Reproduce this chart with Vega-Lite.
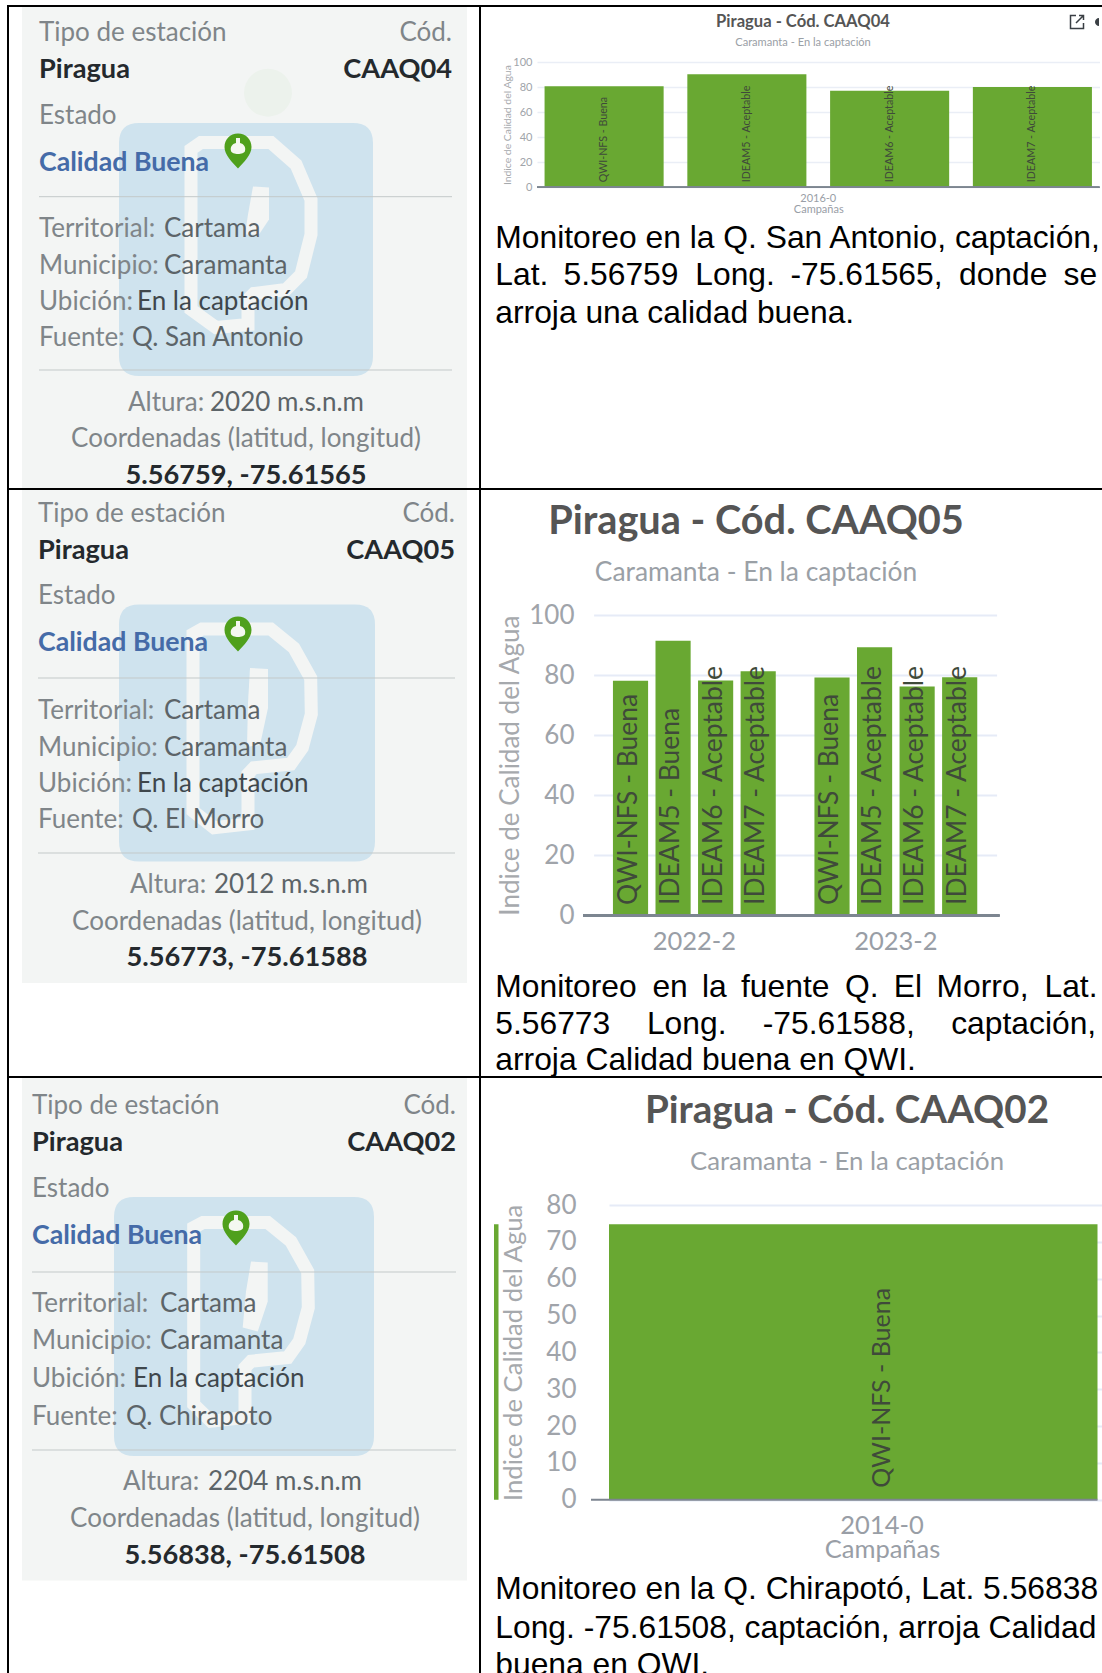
{
"$schema":"https://vega.github.io/schema/vega-lite/v6.json",
"background":"white",
"padding":{"left":6,"top":4,"right":0,"bottom":0},
"config":{"view":{"stroke":null},"font":"Lato","axis":{"labelOverlap":false}},
"datasets":{
"fichas":[
{"ficha":"CAAQ04","elemento":"fondo","renglon":17,"columna":12},
{"ficha":"CAAQ04","elemento":"matraz","renglon":16,"columna":11},
{"ficha":"CAAQ04","elemento":"sello","renglon":14,"columna":9},
{"ficha":"CAAQ04","elemento":"pin","renglon":15,"columna":10},
{"ficha":"CAAQ04","elemento":"linea","renglon":5,"columna":1,"columna_fin":2},
{"ficha":"CAAQ04","elemento":"linea","renglon":10,"columna":1,"columna_fin":2},
{"ficha":"CAAQ04","elemento":"etiqueta","renglon":1,"columna":1,"texto":"Tipo de estación"},
{"ficha":"CAAQ04","elemento":"etiqueta","renglon":1,"columna":2,"texto":"Cód."},
{"ficha":"CAAQ04","elemento":"fuerte","renglon":2,"columna":1,"texto":"Piragua"},
{"ficha":"CAAQ04","elemento":"fuerte","renglon":2,"columna":2,"texto":"CAAQ04"},
{"ficha":"CAAQ04","elemento":"etiqueta","renglon":3,"columna":1,"texto":"Estado"},
{"ficha":"CAAQ04","elemento":"calidad","renglon":4,"columna":1,"texto":"Calidad Buena"},
{"ficha":"CAAQ04","elemento":"etiqueta","renglon":6,"columna":1,"texto":"Territorial:"},
{"ficha":"CAAQ04","elemento":"dato","renglon":6,"columna":4,"texto":"Cartama"},
{"ficha":"CAAQ04","elemento":"etiqueta","renglon":7,"columna":1,"texto":"Municipio:"},
{"ficha":"CAAQ04","elemento":"dato","renglon":7,"columna":4,"texto":"Caramanta"},
{"ficha":"CAAQ04","elemento":"etiqueta","renglon":8,"columna":1,"texto":"Ubición:"},
{"ficha":"CAAQ04","elemento":"ubicacion","renglon":8,"columna":5,"texto":"En la captación"},
{"ficha":"CAAQ04","elemento":"etiqueta","renglon":9,"columna":1,"texto":"Fuente:"},
{"ficha":"CAAQ04","elemento":"dato","renglon":9,"columna":6,"texto":"Q. San Antonio"},
{"ficha":"CAAQ04","elemento":"etiqueta","renglon":11,"columna":8,"texto":"Altura:"},
{"ficha":"CAAQ04","elemento":"dato","renglon":11,"columna":7,"texto":"2020 m.s.n.m"},
{"ficha":"CAAQ04","elemento":"etiqueta","renglon":12,"columna":3,"texto":"Coordenadas (latitud, longitud)"},
{"ficha":"CAAQ04","elemento":"fuerte","renglon":13,"columna":3,"texto":"5.56759, -75.61565"},
{"ficha":"CAAQ05","elemento":"fondo","renglon":17,"columna":12},
{"ficha":"CAAQ05","elemento":"sello","renglon":14,"columna":9},
{"ficha":"CAAQ05","elemento":"pin","renglon":15,"columna":10},
{"ficha":"CAAQ05","elemento":"linea","renglon":5,"columna":1,"columna_fin":2},
{"ficha":"CAAQ05","elemento":"linea","renglon":10,"columna":1,"columna_fin":2},
{"ficha":"CAAQ05","elemento":"etiqueta","renglon":1,"columna":1,"texto":"Tipo de estación"},
{"ficha":"CAAQ05","elemento":"etiqueta","renglon":1,"columna":2,"texto":"Cód."},
{"ficha":"CAAQ05","elemento":"fuerte","renglon":2,"columna":1,"texto":"Piragua"},
{"ficha":"CAAQ05","elemento":"fuerte","renglon":2,"columna":2,"texto":"CAAQ05"},
{"ficha":"CAAQ05","elemento":"etiqueta","renglon":3,"columna":1,"texto":"Estado"},
{"ficha":"CAAQ05","elemento":"calidad","renglon":4,"columna":1,"texto":"Calidad Buena"},
{"ficha":"CAAQ05","elemento":"etiqueta","renglon":6,"columna":1,"texto":"Territorial:"},
{"ficha":"CAAQ05","elemento":"dato","renglon":6,"columna":4,"texto":"Cartama"},
{"ficha":"CAAQ05","elemento":"etiqueta","renglon":7,"columna":1,"texto":"Municipio:"},
{"ficha":"CAAQ05","elemento":"dato","renglon":7,"columna":4,"texto":"Caramanta"},
{"ficha":"CAAQ05","elemento":"etiqueta","renglon":8,"columna":1,"texto":"Ubición:"},
{"ficha":"CAAQ05","elemento":"ubicacion","renglon":8,"columna":5,"texto":"En la captación"},
{"ficha":"CAAQ05","elemento":"etiqueta","renglon":9,"columna":1,"texto":"Fuente:"},
{"ficha":"CAAQ05","elemento":"dato","renglon":9,"columna":6,"texto":"Q. El Morro"},
{"ficha":"CAAQ05","elemento":"etiqueta","renglon":11,"columna":8,"texto":"Altura:"},
{"ficha":"CAAQ05","elemento":"dato","renglon":11,"columna":7,"texto":"2012 m.s.n.m"},
{"ficha":"CAAQ05","elemento":"etiqueta","renglon":12,"columna":3,"texto":"Coordenadas (latitud, longitud)"},
{"ficha":"CAAQ05","elemento":"fuerte","renglon":13,"columna":3,"texto":"5.56773, -75.61588"},
{"ficha":"CAAQ02","elemento":"fondo","renglon":17,"columna":12},
{"ficha":"CAAQ02","elemento":"sello","renglon":14,"columna":9},
{"ficha":"CAAQ02","elemento":"pin","renglon":15,"columna":10},
{"ficha":"CAAQ02","elemento":"linea","renglon":5,"columna":1,"columna_fin":2},
{"ficha":"CAAQ02","elemento":"linea","renglon":10,"columna":1,"columna_fin":2},
{"ficha":"CAAQ02","elemento":"etiqueta","renglon":1,"columna":1,"texto":"Tipo de estación"},
{"ficha":"CAAQ02","elemento":"etiqueta","renglon":1,"columna":2,"texto":"Cód."},
{"ficha":"CAAQ02","elemento":"fuerte","renglon":2,"columna":1,"texto":"Piragua"},
{"ficha":"CAAQ02","elemento":"fuerte","renglon":2,"columna":2,"texto":"CAAQ02"},
{"ficha":"CAAQ02","elemento":"etiqueta","renglon":3,"columna":1,"texto":"Estado"},
{"ficha":"CAAQ02","elemento":"calidad","renglon":4,"columna":1,"texto":"Calidad Buena"},
{"ficha":"CAAQ02","elemento":"etiqueta","renglon":6,"columna":1,"texto":"Territorial:"},
{"ficha":"CAAQ02","elemento":"dato","renglon":6,"columna":4,"texto":"Cartama"},
{"ficha":"CAAQ02","elemento":"etiqueta","renglon":7,"columna":1,"texto":"Municipio:"},
{"ficha":"CAAQ02","elemento":"dato","renglon":7,"columna":4,"texto":"Caramanta"},
{"ficha":"CAAQ02","elemento":"etiqueta","renglon":8,"columna":1,"texto":"Ubición:"},
{"ficha":"CAAQ02","elemento":"ubicacion","renglon":8,"columna":5,"texto":"En la captación"},
{"ficha":"CAAQ02","elemento":"etiqueta","renglon":9,"columna":1,"texto":"Fuente:"},
{"ficha":"CAAQ02","elemento":"dato","renglon":9,"columna":6,"texto":"Q. Chirapoto"},
{"ficha":"CAAQ02","elemento":"etiqueta","renglon":11,"columna":8,"texto":"Altura:"},
{"ficha":"CAAQ02","elemento":"dato","renglon":11,"columna":7,"texto":"2204 m.s.n.m"},
{"ficha":"CAAQ02","elemento":"etiqueta","renglon":12,"columna":3,"texto":"Coordenadas (latitud, longitud)"},
{"ficha":"CAAQ02","elemento":"fuerte","renglon":13,"columna":3,"texto":"5.56838, -75.61508"}
],
"indices":[
{"estacion":"CAAQ04","campana":"2016-0","orden":1,"valor":80.6,"etiqueta":"QWI-NFS - Buena"},
{"estacion":"CAAQ04","campana":"2016-0","orden":2,"valor":90.2,"etiqueta":"IDEAM5 - Aceptable"},
{"estacion":"CAAQ04","campana":"2016-0","orden":3,"valor":77.1,"etiqueta":"IDEAM6 - Aceptable"},
{"estacion":"CAAQ04","campana":"2016-0","orden":4,"valor":80,"etiqueta":"IDEAM7 - Aceptable"},
{"estacion":"CAAQ05","campana":"2022-2","orden":1,"valor":78.1,"etiqueta":"QWI-NFS - Buena"},
{"estacion":"CAAQ05","campana":"2022-2","orden":2,"valor":91.4,"etiqueta":"IDEAM5 - Buena"},
{"estacion":"CAAQ05","campana":"2022-2","orden":3,"valor":78.2,"etiqueta":"IDEAM6 - Aceptable"},
{"estacion":"CAAQ05","campana":"2022-2","orden":4,"valor":81.3,"etiqueta":"IDEAM7 - Aceptable"},
{"estacion":"CAAQ05","campana":"2023-2","orden":1,"valor":79.2,"etiqueta":"QWI-NFS - Buena"},
{"estacion":"CAAQ05","campana":"2023-2","orden":2,"valor":89.3,"etiqueta":"IDEAM5 - Aceptable"},
{"estacion":"CAAQ05","campana":"2023-2","orden":3,"valor":76.2,"etiqueta":"IDEAM6 - Aceptable"},
{"estacion":"CAAQ05","campana":"2023-2","orden":4,"valor":79.3,"etiqueta":"IDEAM7 - Aceptable"},
{"estacion":"CAAQ02","campana":"2014-0","orden":1,"valor":74.8,"etiqueta":"QWI-NFS - Buena"}
],
"textos":[
{"estacion":"CAAQ04","parte":"titulo","renglon":1,"columna":1,"texto":"Piragua - Cód. CAAQ04"},
{"estacion":"CAAQ04","parte":"subtitulo","renglon":2,"columna":1,"texto":"Caramanta - En la captación"},
{"estacion":"CAAQ05","parte":"titulo","renglon":1,"columna":1,"texto":"Piragua - Cód. CAAQ05"},
{"estacion":"CAAQ05","parte":"subtitulo","renglon":2,"columna":1,"texto":"Caramanta - En la captación"},
{"estacion":"CAAQ02","parte":"titulo","renglon":1,"columna":1,"texto":"Piragua - Cód. CAAQ02"},
{"estacion":"CAAQ02","parte":"subtitulo","renglon":2,"columna":1,"texto":"Caramanta - En la captación"}
],
"parrafos":[
{"estacion":"CAAQ04","renglon":1,"columna":1,"texto":"Monitoreo en la Q. San Antonio, captación,"},
{"estacion":"CAAQ04","renglon":2,"columna":1,"texto":"Lat."},
{"estacion":"CAAQ04","renglon":2,"columna":2,"texto":"5.56759"},
{"estacion":"CAAQ04","renglon":2,"columna":3,"texto":"Long."},
{"estacion":"CAAQ04","renglon":2,"columna":4,"texto":"-75.61565,"},
{"estacion":"CAAQ04","renglon":2,"columna":5,"texto":"donde"},
{"estacion":"CAAQ04","renglon":2,"columna":6,"texto":"se"},
{"estacion":"CAAQ04","renglon":3,"columna":1,"texto":"arroja una calidad buena."},
{"estacion":"CAAQ05","renglon":1,"columna":1,"texto":"Monitoreo"},
{"estacion":"CAAQ05","renglon":1,"columna":2,"texto":"en"},
{"estacion":"CAAQ05","renglon":1,"columna":3,"texto":"la"},
{"estacion":"CAAQ05","renglon":1,"columna":4,"texto":"fuente"},
{"estacion":"CAAQ05","renglon":1,"columna":5,"texto":"Q."},
{"estacion":"CAAQ05","renglon":1,"columna":6,"texto":"El"},
{"estacion":"CAAQ05","renglon":1,"columna":7,"texto":"Morro,"},
{"estacion":"CAAQ05","renglon":1,"columna":8,"texto":"Lat."},
{"estacion":"CAAQ05","renglon":2,"columna":1,"texto":"5.56773"},
{"estacion":"CAAQ05","renglon":2,"columna":9,"texto":"Long."},
{"estacion":"CAAQ05","renglon":2,"columna":10,"texto":"-75.61588,"},
{"estacion":"CAAQ05","renglon":2,"columna":11,"texto":"captación,"},
{"estacion":"CAAQ05","renglon":3,"columna":1,"texto":"arroja Calidad buena en QWI."},
{"estacion":"CAAQ02","renglon":1,"columna":1,"texto":"Monitoreo en la Q. Chirapotó, Lat. 5.56838"},
{"estacion":"CAAQ02","renglon":2,"columna":1,"texto":"Long. -75.61508, captación, arroja Calidad"},
{"estacion":"CAAQ02","renglon":3,"columna":1,"texto":"buena en QWI."}
]
},
"bounds":"flush","spacing":0,
"resolve":{"scale":{"xOffset":"independent"}},
"vconcat":[
{"width":1096,"height":2,"view":{"fill":"#000000","stroke":null},"data":{"values":[{"borde":"fila"}]},"mark":{"type":"rule","opacity":0},"encoding":{}},
{"bounds":"flush","spacing":0,"resolve":{"scale":{"xOffset":"independent"}},"hconcat":[
 {"width":2,"height":481,"view":{"fill":"#000000","stroke":null},"data":{"values":[{"borde":"col"}]},"mark":{"type":"rule","opacity":0},"encoding":{}},
 {"width":470,"height":481,"data":{"name":"fichas"},"transform":[{"filter":"datum.ficha==='CAAQ04'"}],
  "encoding":{
   "x":{"field":"columna","type":"quantitative","axis":null,"scale":{"nice":false,"zero":false,"domain":[1,2,3,4,5,6,7,8,9,10,11,12],"range":[30,443,237,155,128,123,201,119,237,229,259,235.5]}},
   "y":{"field":"renglon","type":"quantitative","axis":null,"scale":{"nice":false,"zero":false,"domain":[1,2,3,4,5,6,7,8,9,10,11,12,13,14,15,16,17],"range":[26,63,109,156,189.7,222,259,295,331,363,396,432,469,242.5,144,85.7,240.5]}}},
  "layer":[
   {"transform":[{"filter":"datum.elemento==='fondo'"}],"mark":{"type":"point","filled":true,"opacity":1,"size":4,"fill":"#f3f5f4","stroke":null,"shape":"M-222.5,-240.5 H222.5 V240.5 H-222.5 Z"}},
   {"transform":[{"filter":"datum.elemento==='matraz'"}],"mark":{"type":"point","shape":"circle","filled":true,"opacity":1,"size":2300,"fill":"#ecf2ec","stroke":null}},
   {"transform":[{"filter":"datum.elemento==='sello'"}],"mark":{"type":"point","filled":true,"opacity":1,"size":4,"fill":"#cfe3ee","stroke":null,"shape":"M-107,-126.5 H107 Q127,-126.5 127,-106.5 V106.5 Q127,126.5 107,126.5 H-107 Q-127,126.5 -127,106.5 V-106.5 Q-127,-126.5 -107,-126.5 Z"}},
   {"transform":[{"filter":"datum.elemento==='sello'"}],"mark":{"type":"point","filled":false,"opacity":1,"size":4,"stroke":"#f3f5f4","strokeWidth":13,"shape":"M-55,60 L-55,-100 L-45,-107 L25,-107 L50,-85 L65,-50 L65,-15 L55,25 L40,40 L8,44 L2,50 L2,75 L-30,78 Z"}},
   {"transform":[{"filter":"datum.elemento==='sello'"}],"mark":{"type":"point","filled":true,"opacity":1,"size":4,"fill":"#f3f5f4","stroke":null,"shape":"M7,-63 L23,-62 L23,-30 L13,-15 L-1,-15 L2,-35 Z"}},
   {"transform":[{"filter":"datum.elemento==='pin'"}],"mark":{"type":"point","filled":true,"opacity":1,"size":4,"fill":"#4fa01c","stroke":null,"shape":"M0,-17.5 C8,-17.5 13.5,-11.5 13.5,-4 C13.5,4 6,11 0,17.5 C-6,11 -13.5,4 -13.5,-4 C-13.5,-11.5 -8,-17.5 0,-17.5 Z"}},
   {"transform":[{"filter":"datum.elemento==='pin'"}],"mark":{"type":"point","filled":true,"opacity":1,"size":4,"fill":"#f4f8f0","stroke":null,"shape":"M-2,-13 L2,-13 L2,-8 C6,-7 8,-4 7,0 C6,4 -6,4 -7,0 C-8,-4 -6,-7 -2,-8 Z"}},
   {"transform":[{"filter":"datum.elemento==='linea'"}],"mark":{"type":"rule","color":"#c3c9c9","strokeWidth":1},"encoding":{"x2":{"field":"columna_fin"}}},
   {"transform":[{"filter":"datum.texto"}],"mark":{"type":"text","font":"Lato","fontSize":{"expr":"datum.elemento==='fuerte'?27.2:datum.elemento==='calidad'?26.7:26"},"baseline":"middle","align":{"expr":"datum.columna===2?'right':datum.columna===3?'center':'left'"},"fontWeight":{"expr":"datum.elemento==='fuerte'||datum.elemento==='calidad'?'bold':'normal'"}},
    "encoding":{"text":{"field":"texto"},"color":{"field":"elemento","type":"nominal","legend":null,"scale":{"domain":["etiqueta","dato","ubicacion","fuerte","calidad"],"range":["#7f8589","#5c6468","#3f474c","#24292d","#456ba8"]}}}}
  ]},
 {"width":2,"height":481,"view":{"fill":"#000000","stroke":null},"data":{"values":[{"borde":"col"}]},"mark":{"type":"rule","opacity":0},"encoding":{}},
 {"bounds":"flush","spacing":0,"resolve":{"scale":{"xOffset":"independent"}},"vconcat":[
  {"width":622,"height":54.7,"data":{"name":"textos"},"transform":[{"filter":"datum.estacion==='CAAQ04'"}],
   "encoding":{
    "x":{"field":"columna","type":"quantitative","axis":null,"scale":{"nice":false,"zero":false,"domain":[1,2,3],"range":[322,596,618]}},
    "y":{"field":"renglon","type":"quantitative","axis":null,"scale":{"nice":false,"zero":false,"domain":[1,2],"range":[15,36]}}},
   "layer":[
    {"transform":[{"filter":"datum.parte==='titulo'"}],"mark":{"type":"text","font":"Lato","fontWeight":"bold","fontSize":16.6,"color":"#555555","baseline":"middle","align":"center"},"encoding":{"text":{"field":"texto"}}},
    {"transform":[{"filter":"datum.parte==='subtitulo'"}],"mark":{"type":"text","font":"Lato","fontSize":11.1,"color":"#9aa0a6","baseline":"middle","align":"center"},"encoding":{"text":{"field":"texto"}}},
    {"data":{"values":[{"columna":2,"renglon":1}]},"mark":{"type":"point","filled":false,"opacity":1,"size":4,"stroke":"#3a3f44","strokeWidth":1.5,"shape":"M-1,-6.5 H-6.5 V6.5 H6.5 V1 M-1,1 L6.5,-6.5 M2,-6.5 H6.5 V-2"}},
    {"data":{"values":[{"columna":3,"renglon":1}]},"mark":{"type":"point","filled":true,"opacity":1,"size":4,"fill":"#3a3f44","stroke":null,"shape":"M0,-4 A4,4 0 0 0 0,4 Z"}}
   ]},
  {"bounds":"flush","spacing":0,"resolve":{"scale":{"xOffset":"independent"}},"hconcat":[
   {"width":55.5,"height":125.3,"data":{"values":[{"hueco":1}]},"mark":{"type":"rule","opacity":0},"encoding":{}},
   {"width":562.5,"height":125.3,"data":{"name":"indices"},"transform":[{"filter":"datum.estacion==='CAAQ04'"}],
    "layer":[
     {"mark":{"type":"bar","color":"#69a832"},
      "encoding":{
       "x":{"field":"campana","type":"nominal","scale":{"type":"band","paddingInner":0,"paddingOuter":0},"axis":{"labelAngle":0,"domain":false,"ticks":false,"title":"Campañas","labelFont":"Lato","labelFontSize":11,"labelColor":"#999ea6","labelPadding":5,"titleFont":"Lato","titleFontWeight":"normal","titleFontSize":11,"titleColor":"#999ea6","titlePadding":0}},
       "xOffset":{"field":"orden","type":"nominal","scale":{"paddingInner":0.166,"paddingOuter":0.053}},
       "y":{"field":"valor","type":"quantitative","scale":{"domain":[0,100],"nice":false},"axis":{"values":[0,20,40,60,80,100],"labelOverlap":false,"domain":false,"ticks":false,"grid":true,"gridColor":"#eaeef6","gridWidth":1.5,"title":"Indice de Calidad del Agua","labelFont":"Lato","labelFontSize":11,"labelColor":"#a0a4aa","labelPadding":5,"titleFont":"Lato","titleFontWeight":"normal","titleFontSize":10.4,"titleColor":"#a6a9ad","titlePadding":0}}}},
     {"mark":{"type":"text","font":"Lato","fontSize":10.7,"angle":270,"align":"left","baseline":"middle","dx":5,"color":"#3f4a3a"},
      "encoding":{
       "x":{"field":"campana","type":"nominal"},
       "xOffset":{"field":"orden","type":"nominal"},
       "y":{"datum":0,"type":"quantitative","axis":{"values":[0,20,40,60,80,100],"labelOverlap":false}},
       "text":{"field":"etiqueta"}}},
     {"mark":{"type":"rule","color":"#7d8590","strokeWidth":1.5},"encoding":{"y":{"datum":0,"type":"quantitative","axis":{"values":[0,20,40,60,80,100],"labelOverlap":false}}}}
    ]}
  ]},
  {"width":622,"height":125.3,"data":{"values":[{"hueco":1}]},"mark":{"type":"rule","opacity":0},"encoding":{}},
  {"width":622,"height":301,"data":{"name":"parrafos"},"transform":[{"filter":"datum.estacion==='CAAQ04'"}],
   "mark":{"type":"text","font":"Liberation Sans","fontSize":31.8,"color":"#000000","baseline":"middle","align":"left"},
   "encoding":{
    "x":{"field":"columna","type":"quantitative","axis":null,"scale":{"nice":false,"zero":false,"domain":[1,2,3,4,5,6],"range":[14.3,82.5,214.3,309.5,478,582.5]}},
    "y":{"field":"renglon","type":"quantitative","axis":null,"scale":{"nice":false,"zero":false,"domain":[1,2,3],"range":[50,87,124.5]}},
    "text":{"field":"texto"}}}
 ]}
]},
{"width":1096,"height":481,"data":{"values":[{"hueco":1}]},"mark":{"type":"rule","opacity":0},"encoding":{}},
{"width":1096,"height":2,"view":{"fill":"#000000","stroke":null},"data":{"values":[{"borde":"fila"}]},"mark":{"type":"rule","opacity":0},"encoding":{}},
{"bounds":"flush","spacing":0,"resolve":{"scale":{"xOffset":"independent"}},"hconcat":[
 {"width":2,"height":586,"view":{"fill":"#000000","stroke":null},"data":{"values":[{"borde":"col"}]},"mark":{"type":"rule","opacity":0},"encoding":{}},
 {"width":470,"height":586,"data":{"name":"fichas"},"transform":[{"filter":"datum.ficha==='CAAQ05'"}],
  "encoding":{
   "x":{"field":"columna","type":"quantitative","axis":null,"scale":{"nice":false,"zero":false,"domain":[1,2,3,4,5,6,7,8,9,10,12],"range":[29,446,238,155,128,123,205,121,238,229,235.5]}},
   "y":{"field":"renglon","type":"quantitative","axis":null,"scale":{"nice":false,"zero":false,"domain":[1,2,3,4,5,6,7,8,9,10,11,12,13,14,15,17],"range":[24,60.7,106,153,188,220.6,257.5,294,330,363,395,431.7,468,243,144,246.5]}}},
  "layer":[
   {"transform":[{"filter":"datum.elemento==='fondo'"}],"mark":{"type":"point","filled":true,"opacity":1,"size":4,"fill":"#f3f5f4","stroke":null,"shape":"M-222.5,-246.5 H222.5 V246.5 H-222.5 Z"}},
   {"transform":[{"filter":"datum.elemento==='sello'"}],"mark":{"type":"point","filled":true,"opacity":1,"size":4,"fill":"#cfe3ee","stroke":null,"shape":"M-108,-128.5 H108 Q128,-128.5 128,-108.5 V108.5 Q128,128.5 108,128.5 H-108 Q-128,128.5 -128,108.5 V-108.5 Q-128,-128.5 -108,-128.5 Z"}},
   {"transform":[{"filter":"datum.elemento==='sello'"}],"mark":{"type":"point","filled":false,"opacity":1,"size":4,"stroke":"#f3f5f4","strokeWidth":13,"shape":"M-54,78 L-54,-99 L-45,-104 L23.7,-104 L47,-85 L63.7,-55 L64.3,-18.7 L55.3,14.7 L43.7,31 L7,34.7 L1,41 L1,91 L-33,94.7 Z"}},
   {"transform":[{"filter":"datum.elemento==='sello'"}],"mark":{"type":"point","filled":true,"opacity":1,"size":4,"fill":"#f3f5f4","stroke":null,"shape":"M3,-65 L21,-64 L21,-25 L13,12 L0,14 L1,-30 Z"}},
   {"transform":[{"filter":"datum.elemento==='pin'"}],"mark":{"type":"point","filled":true,"opacity":1,"size":4,"fill":"#4fa01c","stroke":null,"shape":"M0,-17.5 C8,-17.5 13.5,-11.5 13.5,-4 C13.5,4 6,11 0,17.5 C-6,11 -13.5,4 -13.5,-4 C-13.5,-11.5 -8,-17.5 0,-17.5 Z"}},
   {"transform":[{"filter":"datum.elemento==='pin'"}],"mark":{"type":"point","filled":true,"opacity":1,"size":4,"fill":"#f4f8f0","stroke":null,"shape":"M-2,-13 L2,-13 L2,-8 C6,-7 8,-4 7,0 C6,4 -6,4 -7,0 C-8,-4 -6,-7 -2,-8 Z"}},
   {"transform":[{"filter":"datum.elemento==='linea'"}],"mark":{"type":"rule","color":"#c3c9c9","strokeWidth":1},"encoding":{"x2":{"field":"columna_fin"}}},
   {"transform":[{"filter":"datum.texto"}],"mark":{"type":"text","font":"Lato","fontSize":{"expr":"datum.elemento==='fuerte'?27.2:datum.elemento==='calidad'?26.7:26"},"baseline":"middle","align":{"expr":"datum.columna===2?'right':datum.columna===3?'center':'left'"},"fontWeight":{"expr":"datum.elemento==='fuerte'||datum.elemento==='calidad'?'bold':'normal'"}},
    "encoding":{"text":{"field":"texto"},"color":{"field":"elemento","type":"nominal","legend":null,"scale":{"domain":["etiqueta","dato","ubicacion","fuerte","calidad"],"range":["#7f8589","#5c6468","#3f474c","#24292d","#456ba8"]}}}}
  ]},
 {"width":2,"height":586,"view":{"fill":"#000000","stroke":null},"data":{"values":[{"borde":"col"}]},"mark":{"type":"rule","opacity":0},"encoding":{}},
 {"bounds":"flush","spacing":0,"resolve":{"scale":{"xOffset":"independent"}},"vconcat":[
  {"width":622,"height":125,"data":{"name":"textos"},"transform":[{"filter":"datum.estacion==='CAAQ05'"}],
   "encoding":{
    "x":{"field":"columna","type":"quantitative","axis":null,"scale":{"nice":false,"zero":false,"domain":[0,1],"range":[0,275]}},
    "y":{"field":"renglon","type":"quantitative","axis":null,"scale":{"nice":false,"zero":false,"domain":[1,2],"range":[32,83]}}},
   "layer":[
    {"transform":[{"filter":"datum.parte==='titulo'"}],"mark":{"type":"text","font":"Lato","fontWeight":"bold","fontSize":39.7,"color":"#555555","baseline":"middle","align":"center"},"encoding":{"text":{"field":"texto"}}},
    {"transform":[{"filter":"datum.parte==='subtitulo'"}],"mark":{"type":"text","font":"Lato","fontSize":26.4,"color":"#9aa0a6","baseline":"middle","align":"center"},"encoding":{"text":{"field":"texto"}}}
   ]},
  {"bounds":"flush","spacing":0,"resolve":{"scale":{"xOffset":"independent"}},"hconcat":[
   {"width":101.6,"height":300.4,"data":{"values":[{"hueco":1}]},"mark":{"type":"rule","opacity":0},"encoding":{}},
   {"width":416.4,"height":300.4,"data":{"name":"indices"},"transform":[{"filter":"datum.estacion==='CAAQ05'"}],
    "layer":[
     {"mark":{"type":"bar","color":"#69a832"},
      "encoding":{
       "x":{"field":"campana","type":"nominal","scale":{"type":"band","paddingInner":0,"paddingOuter":0,"range":[10.6,413.6]},"axis":{"labelAngle":0,"domain":false,"ticks":false,"title":null,"labelFont":"Lato","labelFontSize":25.5,"labelColor":"#999ea6","labelPadding":14}},
       "xOffset":{"field":"orden","type":"nominal","scale":{"paddingInner":0.174,"paddingOuter":0.4545}},
       "y":{"field":"valor","type":"quantitative","scale":{"domain":[0,100],"nice":false},"axis":{"values":[0,20,40,60,80,100],"labelOverlap":false,"domain":false,"ticks":false,"grid":true,"gridColor":"#e6ebf7","gridWidth":2,"title":"Indice de Calidad del Agua","labelFont":"Lato","labelFontSize":26,"labelColor":"#a0a4aa","labelPadding":9,"titleFont":"Lato","titleFontWeight":"normal","titleFontSize":26,"titleColor":"#a6a9ad","titlePadding":5}}}},
     {"mark":{"type":"text","font":"Lato","fontSize":26.4,"angle":270,"align":"left","baseline":"middle","dx":10.5,"dy":-2,"color":"#3f4a3a"},
      "encoding":{
       "x":{"field":"campana","type":"nominal"},
       "xOffset":{"field":"orden","type":"nominal"},
       "y":{"datum":0,"type":"quantitative"},
       "text":{"field":"etiqueta"}}},
     {"mark":{"type":"rule","color":"#7d8590","strokeWidth":2},"encoding":{"y":{"datum":0,"type":"quantitative"}}}
    ]}
  ]},
  {"width":622,"height":300.4,"data":{"values":[{"hueco":1}]},"mark":{"type":"rule","opacity":0},"encoding":{}},
  {"width":622,"height":160.6,"data":{"name":"parrafos"},"transform":[{"filter":"datum.estacion==='CAAQ05'"}],
   "mark":{"type":"text","font":"Liberation Sans","fontSize":31.8,"color":"#000000","baseline":"middle","align":"left"},
   "encoding":{
    "x":{"field":"columna","type":"quantitative","axis":null,"scale":{"nice":false,"zero":false,"domain":[1,2,3,4,5,6,7,8,9,10,11],"range":[14.3,171.4,221,260,364,412.7,455.6,563.5,165.9,281.7,470.2]}},
    "y":{"field":"renglon","type":"quantitative","axis":null,"scale":{"nice":false,"zero":false,"domain":[1,2,3],"range":[70.6,108,144]}},
    "text":{"field":"texto"}}}
 ]}
]},
{"width":1096,"height":586,"data":{"values":[{"hueco":1}]},"mark":{"type":"rule","opacity":0},"encoding":{}},
{"width":1096,"height":2,"view":{"fill":"#000000","stroke":null},"data":{"values":[{"borde":"fila"}]},"mark":{"type":"rule","opacity":0},"encoding":{}},
{"bounds":"flush","spacing":0,"resolve":{"scale":{"xOffset":"independent"}},"hconcat":[
 {"width":2,"height":596,"view":{"fill":"#000000","stroke":null},"data":{"values":[{"borde":"col"}]},"mark":{"type":"rule","opacity":0},"encoding":{}},
 {"width":470,"height":596,"data":{"name":"fichas"},"transform":[{"filter":"datum.ficha==='CAAQ02'"}],
  "encoding":{
   "x":{"field":"columna","type":"quantitative","axis":null,"scale":{"nice":false,"zero":false,"domain":[1,2,3,4,5,6,7,8,9,10,12],"range":[23,447,236,151,124,117,199,114,235,227,235.5]}},
   "y":{"field":"renglon","type":"quantitative","axis":null,"scale":{"nice":false,"zero":false,"domain":[1,2,3,4,5,6,7,8,9,10,11,12,13,14,15,17],"range":[27.8,64.8,111,158,194,226,263,301,338.5,372,404,441,478,248.5,150,251.3]}}},
  "layer":[
   {"transform":[{"filter":"datum.elemento==='fondo'"}],"mark":{"type":"point","filled":true,"opacity":1,"size":4,"fill":"#f3f5f4","stroke":null,"shape":"M-222.5,-251.3 H222.5 V251.3 H-222.5 Z"}},
   {"transform":[{"filter":"datum.elemento==='sello'"}],"mark":{"type":"point","filled":true,"opacity":1,"size":4,"fill":"#cfe3ee","stroke":null,"shape":"M-110,-129.5 H110 Q130,-129.5 130,-109.5 V109.5 Q130,129.5 110,129.5 H-110 Q-130,129.5 -130,109.5 V-109.5 Q-130,-129.5 -110,-129.5 Z"}},
   {"transform":[{"filter":"datum.elemento==='sello'"}],"mark":{"type":"point","filled":false,"opacity":1,"size":4,"stroke":"#f3f5f4","strokeWidth":13,"shape":"M-50.3,78 L-50.3,-99 L-41,-104 L23.7,-104 L47,-85 L63.7,-55 L64.3,-18.7 L55.3,14.7 L43.7,31 L7,34.7 L1,41 L1,91 L-33,94.7 Z"}},
   {"transform":[{"filter":"datum.elemento==='sello'"}],"mark":{"type":"point","filled":true,"opacity":1,"size":4,"fill":"#f3f5f4","stroke":null,"shape":"M7,-65 L23.7,-64 L23.7,-25 L13.7,5 L-1.3,1 L2,-35 Z"}},
   {"transform":[{"filter":"datum.elemento==='pin'"}],"mark":{"type":"point","filled":true,"opacity":1,"size":4,"fill":"#4fa01c","stroke":null,"shape":"M0,-17.5 C8,-17.5 13.5,-11.5 13.5,-4 C13.5,4 6,11 0,17.5 C-6,11 -13.5,4 -13.5,-4 C-13.5,-11.5 -8,-17.5 0,-17.5 Z"}},
   {"transform":[{"filter":"datum.elemento==='pin'"}],"mark":{"type":"point","filled":true,"opacity":1,"size":4,"fill":"#f4f8f0","stroke":null,"shape":"M-2,-13 L2,-13 L2,-8 C6,-7 8,-4 7,0 C6,4 -6,4 -7,0 C-8,-4 -6,-7 -2,-8 Z"}},
   {"transform":[{"filter":"datum.elemento==='linea'"}],"mark":{"type":"rule","color":"#c3c9c9","strokeWidth":1},"encoding":{"x2":{"field":"columna_fin"}}},
   {"transform":[{"filter":"datum.texto"}],"mark":{"type":"text","font":"Lato","fontSize":{"expr":"datum.elemento==='fuerte'?27.2:datum.elemento==='calidad'?26.7:26"},"baseline":"middle","align":{"expr":"datum.columna===2?'right':datum.columna===3?'center':'left'"},"fontWeight":{"expr":"datum.elemento==='fuerte'||datum.elemento==='calidad'?'bold':'normal'"}},
    "encoding":{"text":{"field":"texto"},"color":{"field":"elemento","type":"nominal","legend":null,"scale":{"domain":["etiqueta","dato","ubicacion","fuerte","calidad"],"range":["#7f8589","#5c6468","#3f474c","#24292d","#456ba8"]}}}}
  ]},
 {"width":2,"height":596,"view":{"fill":"#000000","stroke":null},"data":{"values":[{"borde":"col"}]},"mark":{"type":"rule","opacity":0},"encoding":{}},
 {"bounds":"flush","spacing":0,"resolve":{"scale":{"xOffset":"independent"}},"vconcat":[
  {"width":622,"height":127,"data":{"name":"textos"},"transform":[{"filter":"datum.estacion==='CAAQ02'"}],
   "encoding":{
    "x":{"field":"columna","type":"quantitative","axis":null,"scale":{"nice":false,"zero":false,"domain":[0,1],"range":[0,366]}},
    "y":{"field":"renglon","type":"quantitative","axis":null,"scale":{"nice":false,"zero":false,"domain":[1,2],"range":[33,84]}}},
   "layer":[
    {"transform":[{"filter":"datum.parte==='titulo'"}],"mark":{"type":"text","font":"Lato","fontWeight":"bold","fontSize":38.6,"color":"#555555","baseline":"middle","align":"center"},"encoding":{"text":{"field":"texto"}}},
    {"transform":[{"filter":"datum.parte==='subtitulo'"}],"mark":{"type":"text","font":"Lato","fontSize":25.7,"color":"#9aa0a6","baseline":"middle","align":"center"},"encoding":{"text":{"field":"texto"}}}
   ]},
  {"bounds":"flush","spacing":0,"hconcat":[
   {"width":13,"height":294.7,"data":{"values":[{"hueco":1}]},"mark":{"type":"rule","opacity":0},"encoding":{}},
   {"width":4.5,"height":294.7,"data":{"values":[{"campana":"recorte","valor":74.8}]},
    "mark":{"type":"bar","color":"#69a832"},
    "encoding":{
     "x":{"field":"campana","type":"nominal","axis":null,"scale":{"type":"band","paddingInner":0,"paddingOuter":0}},
     "y":{"field":"valor","type":"quantitative","scale":{"domain":[0,80],"nice":false},"axis":null}}},
   {"width":91.5,"height":294.7,"data":{"values":[{"hueco":1}]},"mark":{"type":"rule","opacity":0},"encoding":{}},
   {"width":506.5,"height":294.7,"data":{"name":"indices"},"transform":[{"filter":"datum.estacion==='CAAQ02'"}],
    "layer":[
     {"mark":{"type":"bar","color":"#69a832","clip":true},
      "encoding":{
       "x":{"field":"campana","type":"nominal","scale":{"type":"band","paddingInner":0,"paddingOuter":0,"range":[18,564]},"axis":{"labelAngle":0,"domain":false,"ticks":false,"title":"Campañas","labelFont":"Lato","labelFontSize":25.5,"labelColor":"#999ea6","labelPadding":14,"titleFont":"Lato","titleFontWeight":"normal","titleFontSize":25.5,"titleColor":"#999ea6","titlePadding":-2}},
       "y":{"field":"valor","type":"quantitative","scale":{"domain":[0,80],"nice":false},"axis":{"values":[0,10,20,30,40,50,60,70,80],"labelOverlap":false,"domain":false,"ticks":false,"grid":true,"gridColor":"#e6ebf7","gridWidth":2,"title":"Indice de Calidad del Agua","labelFont":"Lato","labelFontSize":26,"labelColor":"#a0a4aa","labelPadding":15,"titleFont":"Lato","titleFontWeight":"normal","titleFontSize":25.7,"titleColor":"#a6a9ad","titlePadding":19.5}}}},
     {"mark":{"type":"text","font":"Lato","fontSize":25,"angle":270,"align":"left","baseline":"middle","dx":12,"color":"#3f4a3a"},
      "encoding":{
       "x":{"field":"campana","type":"nominal"},
       "y":{"datum":0,"type":"quantitative","axis":{"values":[0,10,20,30,40,50,60,70,80],"labelOverlap":false}},
       "text":{"field":"etiqueta"}}},
     {"mark":{"type":"rule","color":"#7d8590","strokeWidth":2},"encoding":{"y":{"datum":0,"type":"quantitative","axis":{"values":[0,10,20,30,40,50,60,70,80],"labelOverlap":false}}}}
    ]}
  ]},
  {"width":622,"height":294.7,"data":{"values":[{"hueco":1}]},"mark":{"type":"rule","opacity":0},"encoding":{}},
  {"width":622,"height":174.3,"data":{"name":"parrafos"},"transform":[{"filter":"datum.estacion==='CAAQ02'"}],
   "mark":{"type":"text","font":"Liberation Sans","fontSize":31.8,"color":"#000000","baseline":"middle","align":"left"},
   "encoding":{
    "x":{"field":"columna","type":"quantitative","axis":null,"scale":{"nice":false,"zero":false,"domain":[0,1],"range":[0,14.3]}},
    "y":{"field":"renglon","type":"quantitative","axis":null,"scale":{"nice":false,"zero":false,"domain":[1,2,3],"range":[89.3,127.8,165.3]}},
    "text":{"field":"texto"}}}
 ]}
]}
]
}
